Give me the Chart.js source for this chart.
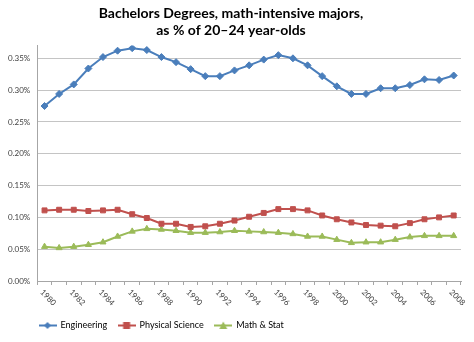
<!DOCTYPE html>
<html>
<head>
<meta charset="utf-8">
<script src="https://cdn.jsdelivr.net/npm/chart.js@4.4.0/dist/chart.umd.min.js"></script>
<style>
  body { margin: 0; background: #fff; }
  #wrap { width: 474px; height: 342px; position: relative; }
</style>
</head>
<body>
<div id="wrap"><canvas id="myChart"></canvas></div>
<script>
Chart.defaults.font.family = 'Lato';
Chart.defaults.color = '#404040';

const years = ['1980','1981','1982','1983','1984','1985','1986','1987','1988','1989',
  '1990','1991','1992','1993','1994','1995','1996','1997','1998','1999',
  '2000','2001','2002','2003','2004','2005','2006','2007','2008'];

// values are percent of 20-24 year-olds
const engineering = [0.275, 0.294, 0.309, 0.334, 0.352, 0.362, 0.366, 0.363, 0.352, 0.344,
  0.333, 0.322, 0.322, 0.331, 0.339, 0.348, 0.355, 0.350, 0.339, 0.322,
  0.306, 0.294, 0.294, 0.303, 0.303, 0.308, 0.317, 0.316, 0.323];

const physicalScience = [0.111, 0.112, 0.112, 0.110, 0.111, 0.112, 0.105, 0.099, 0.090, 0.090,
  0.085, 0.086, 0.090, 0.095, 0.101, 0.107, 0.113, 0.113, 0.111, 0.103,
  0.097, 0.092, 0.088, 0.087, 0.086, 0.091, 0.097, 0.100, 0.103];

const mathStat = [0.054, 0.052, 0.054, 0.057, 0.061, 0.070, 0.078, 0.082, 0.081, 0.079,
  0.076, 0.076, 0.077, 0.079, 0.078, 0.077, 0.076, 0.074, 0.070, 0.070,
  0.065, 0.060, 0.061, 0.061, 0.065, 0.069, 0.071, 0.071, 0.071];

const yMax = 0.37;
const yStep = 0.05;

const blue = '#4a7ebb';
const red = '#c0504d';
const green = '#9bbb59';

// little line + marker pictures for the legend, like excel
function legendIcon(color, style) {
  const c = document.createElement('canvas');
  c.width = 18; c.height = 9;
  const g = c.getContext('2d');
  g.strokeStyle = color; g.fillStyle = color; g.lineWidth = 2;
  g.beginPath(); g.moveTo(0, 4.5); g.lineTo(18, 4.5); g.stroke();
  g.beginPath();
  if (style == 'rectRot') {
    g.moveTo(9, 1); g.lineTo(12.5, 4.5); g.lineTo(9, 8); g.lineTo(5.5, 4.5);
  } else if (style == 'rect') {
    g.rect(5.5, 1, 7, 7);
  } else {
    g.moveTo(9, 0.5); g.lineTo(13, 8); g.lineTo(5, 8);
  }
  g.closePath(); g.fill();
  return c;
}

const data = {
  labels: years,
  datasets: [{
    label: 'Engineering',
    data: engineering,
    borderColor: blue,
    backgroundColor: blue,
    borderWidth: 2,
    pointStyle: 'rectRot',
    pointRadius: 3.5,
    pointBorderWidth: 1,
  }, {
    label: 'Physical Science',
    data: physicalScience,
    borderColor: red,
    backgroundColor: red,
    borderWidth: 2,
    pointStyle: 'rect',
    pointRadius: 3.5,
    pointBorderWidth: 1,
  }, {
    label: 'Math & Stat',
    data: mathStat,
    borderColor: green,
    backgroundColor: green,
    borderWidth: 2,
    pointStyle: 'triangle',
    pointRadius: 3.5,
    pointBorderWidth: 1,
  }]
};

const icons = [legendIcon(blue, 'rectRot'), legendIcon(red, 'rect'), legendIcon(green, 'triangle')];

// rotated year labels (text running down to the right)
const yearLabels = {
  id: 'yearLabels',
  afterDraw(chart) {
    const xs = chart.scales.x;
    const ctx = chart.ctx;
    ctx.save();
    ctx.font = '8px Lato';
    ctx.fillStyle = '#404040';
    ctx.textAlign = 'left';
    ctx.textBaseline = 'middle';
    years.forEach((yr, i) => {
      if (i % 2) return;
      const px = xs.getPixelForValue(i);
      ctx.save();
      ctx.translate(px - 3, xs.top + 10);
      ctx.rotate(Math.PI / 4);
      ctx.fillText(yr, 0, 0);
      ctx.restore();
    });
    ctx.restore();
  }
};

// push the legend over to the left like the original
const legendShift = {
  id: 'legendShift',
  afterLayout(chart) {
    chart.legend.left = 28;
  }
};

const config = {
  type: 'line',
  data: data,
  plugins: [yearLabels, legendShift],
  options: {
    responsive: true,
    maintainAspectRatio: false,
    animation: false,
    layout: {
      padding: { left: 1, right: 13, bottom: 2 }
    },
    plugins: {
      title: {
        display: true,
        text: ['Bachelors Degrees, math-intensive majors,', 'as % of 20\u201324 year-olds'],
        color: '#000',
        font: { size: 14, weight: 'bold' },
        padding: { top: 5, bottom: 7 }
      },
      legend: {
        position: 'bottom',
        align: 'start',
        labels: {
          usePointStyle: true,
          pointStyleWidth: 17,
          padding: 11,
          font: { size: 9 },
          color: '#000',
          generateLabels(chart) {
            return chart.data.datasets.map((ds, i) => ({
              text: ds.label,
              pointStyle: icons[i],
              fillStyle: ds.backgroundColor,
              strokeStyle: ds.borderColor,
              lineWidth: 0,
              datasetIndex: i
            }));
          }
        }
      },
      tooltip: { enabled: false }
    },
    scales: {
      x: {
        offset: true,
        grid: {
          offset: true,
          drawOnChartArea: false,
          drawTicks: true,
          tickLength: 4,
          color: '#a6a6a6'
        },
        border: { color: '#a6a6a6' },
        ticks: { display: false },
        afterFit(scale) { scale.height = 29; }
      },
      y: {
        min: 0,
        max: yMax,
        grid: {
          color: '#c4c4c4',
          drawTicks: false
        },
        border: { color: '#a6a6a6' },
        ticks: {
          stepSize: yStep,
          includeBounds: false,
          padding: 7,
          font: { size: 8 },
          color: '#404040',
          callback: (v) => v.toFixed(2) + '%'
        }
      }
    }
  }
};

const myChart = new Chart(document.getElementById('myChart'), config);
</script>
</body>
</html>
